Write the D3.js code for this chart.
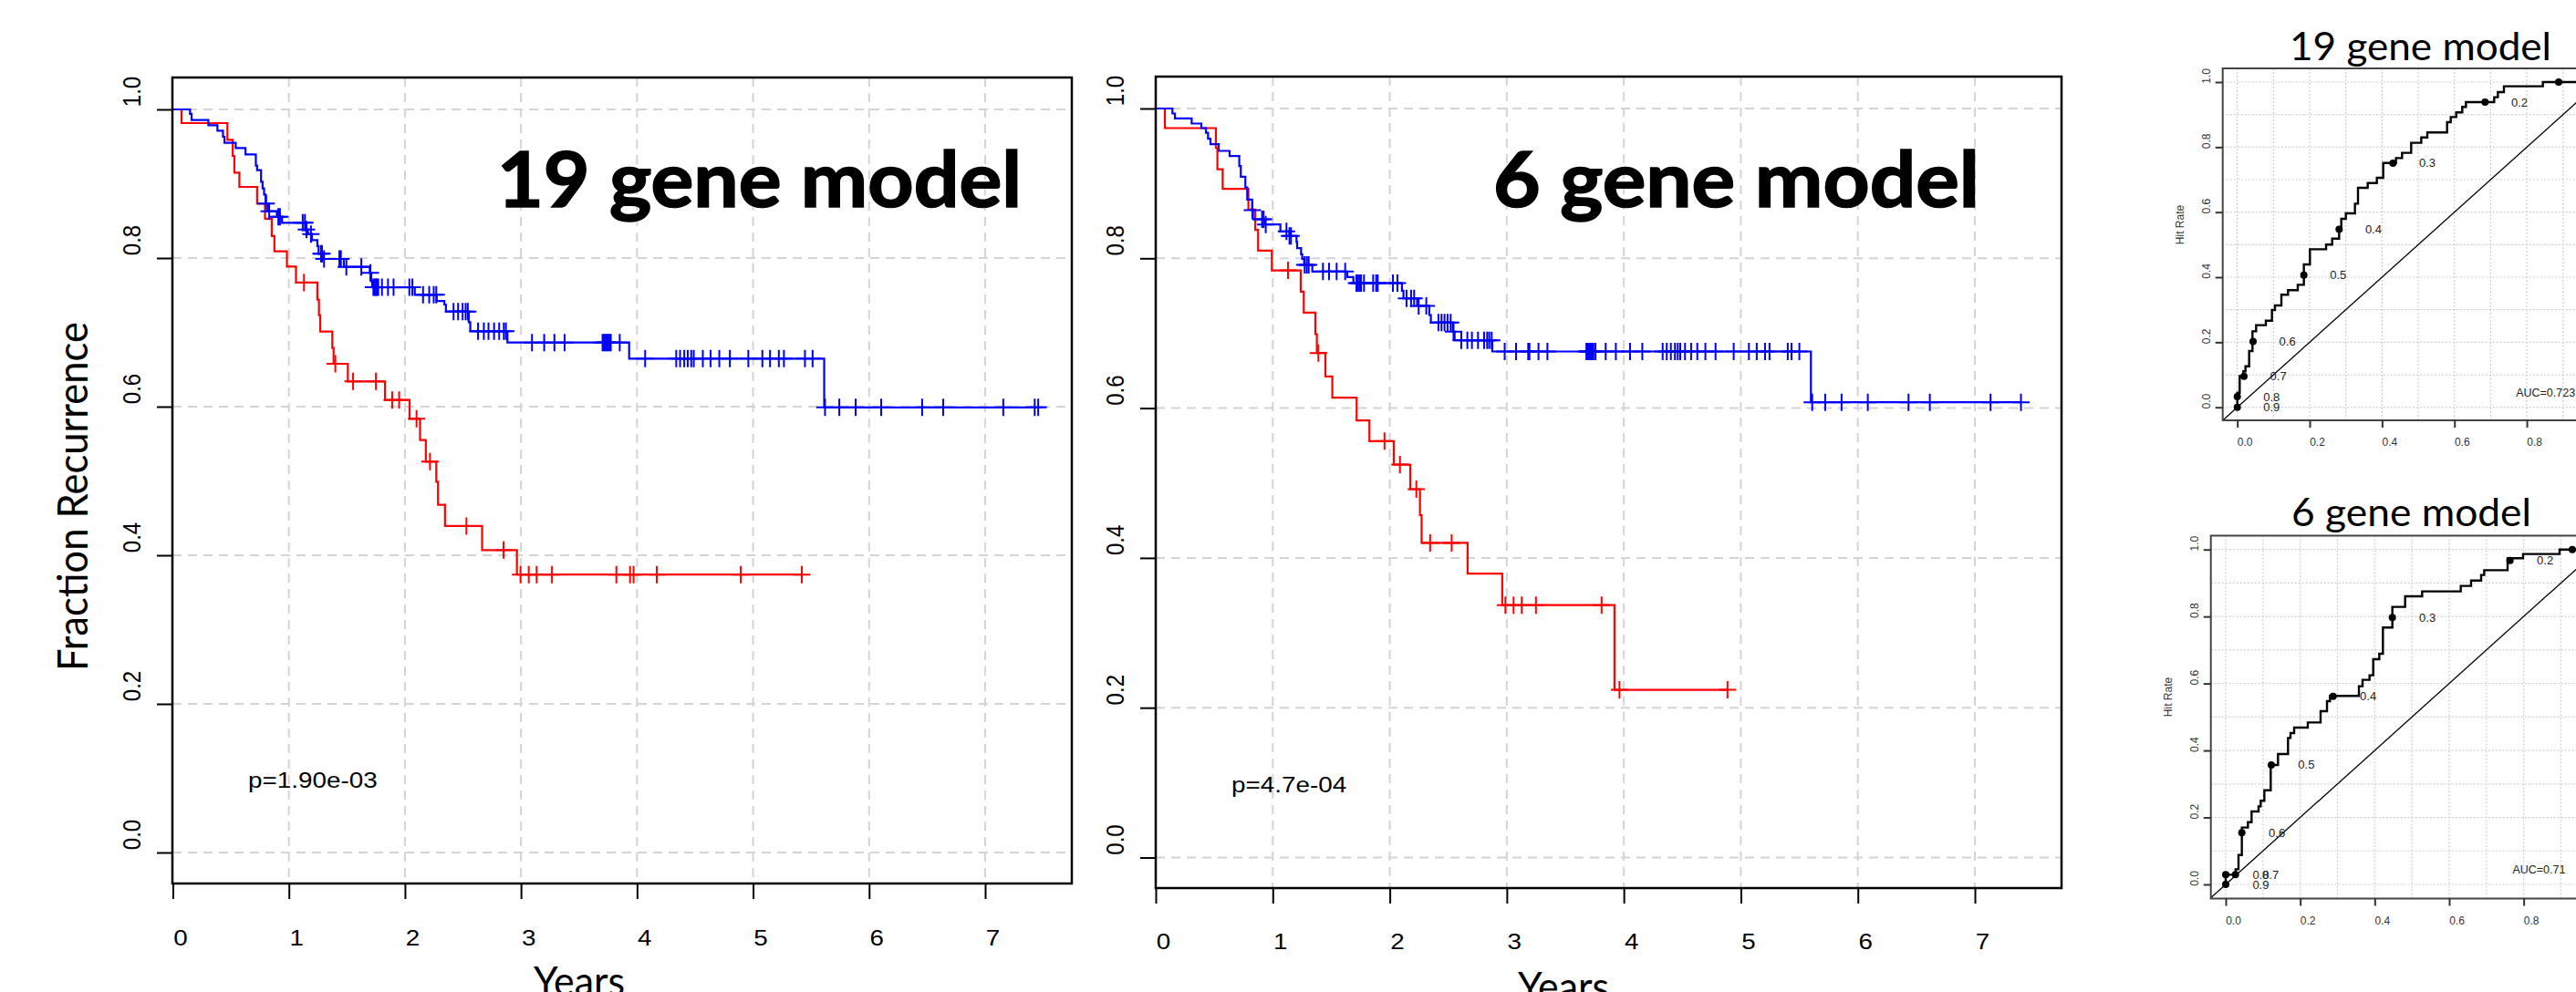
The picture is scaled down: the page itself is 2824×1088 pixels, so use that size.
<!DOCTYPE html>
<html>
<head>
<meta charset="utf-8">
<script src="https://cdn.jsdelivr.net/npm/d3@7"></script>
<style>
  body { margin: 0; background: #fff; }
  svg { display: block; }
</style>
</head>
<body>
<script>
// ---- tick values ----
var yearTicks = [0, 1, 2, 3, 4, 5, 6, 7];
var fracTicks = [0, 0.2, 0.4, 0.6, 0.8, 1.0];
var rocTicks = [0, 0.2, 0.4, 0.6, 0.8, 1.0];
var rocGrid = [0, 0.1, 0.2, 0.3, 0.4, 0.5, 0.6, 0.7, 0.8, 0.9, 1.0];

// ---- Kaplan-Meier, 19 gene model (event times in years, fraction after each event) ----
var km19LowTime = [0.148,0.161,0.306,0.384,0.432,0.445,0.542,0.626,0.715,0.726,0.76,0.773,0.786,0.799,0.82,0.896,0.941,1.146,1.164,1.198,1.245,1.256,1.29,1.474,1.697,1.71,1.718,2.085,2.274,2.34,2.353,2.55,2.563,2.883,3.932,5.613];
var km19LowSurv = [0.9939,0.9857,0.9787,0.9714,0.9632,0.955,0.948,0.9395,0.9243,0.9182,0.9027,0.8937,0.8855,0.8732,0.863,0.8556,0.8474,0.8384,0.8323,0.8241,0.816,0.8057,0.7988,0.7881,0.78,0.7689,0.7607,0.7505,0.7423,0.7374,0.728,0.7137,0.7015,0.6863,0.6646,0.599];
var km19LowCens = [0.804,0.83,0.909,0.923,1.119,1.138,1.151,1.19,1.277,1.285,1.303,1.435,1.448,1.495,1.624,1.702,1.728,1.739,1.75,1.757,1.77,1.802,1.854,1.902,2.038,2.064,2.156,2.209,2.248,2.27,2.419,2.458,2.497,2.523,2.542,2.63,2.68,2.72,2.768,2.812,2.852,2.87,3.095,3.2,3.288,3.376,3.703,3.715,3.727,3.739,3.751,3.763,3.774,3.851,4.07,4.338,4.371,4.407,4.437,4.467,4.489,4.567,4.634,4.709,4.8,4.959,5.08,5.146,5.222,5.266,5.447,5.513,5.62,5.743,5.884,6.104,6.457,6.638,7.156,7.427,7.457];

var km19HighTime = [0.075,0.47,0.516,0.53,0.573,0.726,0.794,0.852,0.875,0.983,1.061,1.245,1.259,1.27,1.374,1.385,1.508,1.828,2.04,2.13,2.18,2.27,2.285,2.345,2.665,2.965];
var km19HighSurv = [0.9816,0.959,0.9374,0.915,0.8957,0.873,0.853,0.8295,0.809,0.7886,0.767,0.744,0.723,0.701,0.679,0.6577,0.634,0.609,0.5836,0.555,0.526,0.499,0.468,0.4394,0.407,0.374];
var km19HighCens = [1.13,1.4,1.553,1.75,1.89,1.95,2.10,2.216,2.53,2.85,2.996,3.067,3.135,3.267,3.822,3.94,3.97,4.17,4.894,5.42];

// ---- Kaplan-Meier, 6 gene model ----
var km6LowTime = [0.143,0.164,0.307,0.39,0.429,0.447,0.468,0.538,0.631,0.714,0.727,0.766,0.782,0.824,0.831,0.935,1.065,1.143,1.203,1.208,1.242,1.252,1.268,1.338,1.637,1.689,2.104,2.117,2.234,2.338,2.351,2.538,2.554,2.876,5.599];
var km6LowSurv = [0.9933,0.9868,0.9799,0.9738,0.9677,0.9596,0.9523,0.9434,0.9365,0.9231,0.9089,0.8947,0.8785,0.8643,0.8521,0.8452,0.8359,0.8298,0.8217,0.8136,0.8054,0.7994,0.7912,0.7823,0.775,0.7669,0.7568,0.7466,0.7365,0.7243,0.7141,0.702,0.6906,0.6756,0.6078];
var km6LowCens = [0.826,0.909,0.922,0.94,1.117,1.143,1.156,1.273,1.291,1.307,1.429,1.481,1.546,1.619,1.715,1.728,1.741,1.754,1.78,1.858,1.884,1.897,2.027,2.065,2.143,2.182,2.208,2.247,2.312,2.416,2.442,2.468,2.494,2.52,2.545,2.611,2.663,2.702,2.754,2.806,2.832,2.85,2.871,2.982,3.079,3.183,3.194,3.271,3.347,3.68,3.69,3.70,3.71,3.72,3.73,3.74,3.758,3.845,3.932,4.053,4.158,4.332,4.367,4.402,4.437,4.461,4.482,4.523,4.575,4.628,4.697,4.784,4.939,5.069,5.136,5.207,5.245,5.401,5.433,5.5,5.61,5.721,5.861,6.085,6.433,6.615,7.134,7.394];

var km6HighTime = [0.078,0.514,0.527,0.572,0.792,0.85,0.875,0.992,1.239,1.265,1.364,1.377,1.45,1.509,1.717,1.826,2.034,2.175,2.258,2.272,2.665,2.961,3.92];
var km6HighSurv = [0.9738,0.9475,0.919,0.8927,0.8651,0.8379,0.8103,0.7839,0.7555,0.7275,0.6987,0.6735,0.6423,0.6139,0.5835,0.5559,0.5246,0.4918,0.4571,0.4201,0.379,0.337,0.2239];
var km6HighCens = [1.13,1.39,1.955,2.087,2.227,2.345,2.529,2.988,3.058,3.128,3.249,3.81,3.963,4.886];

// ---- ROC curves (false alarm rate, hit rate) ----
var roc19Fpr = [0,0,0.0066,0.0167,0.0226,0.0327,0.0419,0.052,0.0789,0.0957,0.1041,0.1218,0.1402,0.1671,0.1839,0.2007,0.2453,0.2621,0.2814,0.2873,0.2999,0.3251,0.3335,0.3604,0.3856,0.4032,0.4385,0.4553,0.4805,0.5083,0.5251,0.5797,0.5898,0.6049,0.6217,0.6318,0.7099,0.72,0.7368,0.8444,1];
var roc19Tpr = [0,0.0449,0.0963,0.1104,0.1262,0.173,0.2337,0.2524,0.2664,0.2991,0.3131,0.3459,0.3599,0.3767,0.4393,0.486,0.5001,0.5187,0.5514,0.5795,0.5963,0.6262,0.6748,0.6897,0.7056,0.7514,0.7664,0.7823,0.8131,0.8299,0.8449,0.8766,0.8925,0.9066,0.9234,0.9383,0.9533,0.9691,0.9869,1,1];
var roc6Fpr = [0,0,0.0265,0.0343,0.0433,0.0596,0.0694,0.0882,0.0939,0.1037,0.1208,0.1404,0.1673,0.1739,0.1837,0.2204,0.2547,0.2719,0.28,0.3576,0.3674,0.3862,0.396,0.4123,0.4221,0.4474,0.4817,0.5274,0.6311,0.6588,0.6858,0.694,0.7568,0.7984,0.8964,1];
var roc6Tpr = [0,0.029,0.0454,0.088,0.1697,0.186,0.2178,0.2332,0.2496,0.2813,0.3567,0.3893,0.4374,0.452,0.4683,0.4837,0.5173,0.5472,0.5627,0.5917,0.6108,0.6244,0.6725,0.6888,0.7669,0.8286,0.8603,0.8749,0.8912,0.9075,0.9239,0.9384,0.9738,0.9865,1,1];

// cutoff points marked on the ROC curves
var cutLabels = ["0.9", "0.8", "0.7", "0.6", "0.5", "0.4", "0.3", "0.2", "0.1"];
var roc19CutFpr = [0, 0, 0.0184, 0.0436, 0.1839, 0.2814, 0.4301, 0.6847, 0.888];
var roc19CutTpr = [0, 0.0327, 0.0954, 0.2027, 0.4065, 0.5475, 0.7505, 0.938, 1.0];
var roc6CutFpr = [0, 0, 0.0261, 0.0433, 0.1224, 0.2882, 0.4474, 0.7633, 0.9305];
var roc6CutTpr = [0, 0.029, 0.029, 0.1543, 0.3567, 0.5618, 0.7968, 0.9675, 1.0];

var W = 2824, H = 1088;
var SANS = "'Liberation Sans', Arial, sans-serif";
var CAL = "Lato, 'Open Sans', sans-serif";

var svg = d3.select("body").append("svg")
    .attr("width", W)
    .attr("height", H);

svg.append("rect").attr("width", W).attr("height", H).attr("fill", "#fff");

function survAt(times, surv, t) {
  var s = 1;
  for (var i = 0; i < times.length; i++) {
    if (times[i] <= t) s = surv[i]; else break;
  }
  return s;
}

function styleAxis(a, color, size) {
  a.select(".domain").remove();
  a.attr("font-family", SANS).attr("font-size", size);
  a.selectAll(".tick line").attr("stroke", color).attr("stroke-width", 2);
  a.selectAll(".tick text").attr("fill", color);
}

function kmPanel(p) {
  var g = svg.append("g");
  var x = p.x, y = p.y, b = p.box;

  // dashed grid
  g.append("g").selectAll("line").data(yearTicks.slice(1)).join("line")
    .attr("x1", function(d) { return x(d); }).attr("x2", function(d) { return x(d); })
    .attr("y1", b.t).attr("y2", b.b)
    .attr("stroke", "#d4d4d4").attr("stroke-width", 2).attr("stroke-dasharray", "10,7");
  g.append("g").selectAll("line").data(fracTicks).join("line")
    .attr("x1", b.l).attr("x2", b.r)
    .attr("y1", function(d) { return y(d); }).attr("y2", function(d) { return y(d); })
    .attr("stroke", "#d4d4d4").attr("stroke-width", 2).attr("stroke-dasharray", "10,7");

  var line = d3.line()
    .x(function(d) { return x(d[0]); })
    .y(function(d) { return y(d[1]); })
    .curve(d3.curveStepAfter);

  p.groups.forEach(function(gr) {
    var pts = [[0, 1]];
    gr.time.forEach(function(t, i) { pts.push([t, gr.surv[i]]); });
    pts.push([d3.max(gr.cens), gr.surv[gr.surv.length - 1]]);
    g.append("path").attr("d", line(pts))
      .attr("fill", "none").attr("stroke", gr.color).attr("stroke-width", 2.2);

    // censor marks
    var h = 9.5;
    g.append("g").selectAll("path").data(gr.cens).join("path")
      .attr("d", function(d) {
        var cx = x(d), cy = y(survAt(gr.time, gr.surv, d));
        return "M" + (cx - h) + "," + cy + "H" + (cx + h) + "M" + cx + "," + (cy - h) + "V" + (cy + h);
      })
      .attr("fill", "none").attr("stroke", gr.color).attr("stroke-width", 2);
  });

  g.append("rect")
    .attr("x", b.l).attr("y", b.t)
    .attr("width", b.r - b.l).attr("height", b.b - b.t)
    .attr("fill", "none").attr("stroke", "#000").attr("stroke-width", 2.5);

  var ax = g.append("g").attr("transform", "translate(0," + b.b + ")")
    .call(d3.axisBottom(x).tickValues(yearTicks).tickSize(17).tickFormat(d3.format("d")));
  styleAxis(ax, "#000", 24);
  ax.selectAll(".tick text").attr("y", p.xLabY).attr("dy", 0)
    .attr("transform", "translate(8,0) scale(1.16,1)");

  var ay = g.append("g").attr("transform", "translate(" + b.l + ",0)")
    .call(d3.axisLeft(y).tickValues(fracTicks).tickSize(17).tickFormat(d3.format(".1f")));
  styleAxis(ay, "#000", 24);
  ay.selectAll(".tick text").attr("x", 0).attr("dy", 0).attr("text-anchor", "middle")
    .attr("transform", "translate(-35,-20) scale(1.16,1) rotate(-90)");

  // big model title
  g.append("text")
    .attr("x", p.title.x).attr("y", 227)
    .attr("font-family", CAL).attr("font-weight", 700).attr("font-size", 84)
    .attr("stroke", "#000").attr("stroke-width", 1.6)
    .attr("textLength", p.title.w).attr("lengthAdjust", "spacingAndGlyphs")
    .text(p.title.text);

  g.append("text")
    .attr("transform", "translate(" + p.pval.x + "," + p.pval.y + ") scale(1.16,1)")
    .attr("font-family", SANS).attr("font-size", 24)
    .text(p.pval.text);

  g.append("text")
    .attr("x", p.years.x).attr("y", p.years.y)
    .attr("text-anchor", "middle")
    .attr("font-family", CAL).attr("font-size", 44)
    .attr("textLength", 100).attr("lengthAdjust", "spacingAndGlyphs")
    .text("Years");
}

function rocPanel(p) {
  var g = svg.append("g");
  var x = p.x, y = p.y, b = p.box;

  svg.append("clipPath").attr("id", p.id)
    .append("rect").attr("x", b.l).attr("y", b.t)
    .attr("width", b.r - b.l).attr("height", b.b - b.t);

  var inner = g.append("g").attr("clip-path", "url(#" + p.id + ")");
  inner.append("g").selectAll("line").data(rocGrid).join("line")
    .attr("x1", function(d) { return x(d); }).attr("x2", function(d) { return x(d); })
    .attr("y1", b.t).attr("y2", b.b)
    .attr("stroke", "#cfcfcf").attr("stroke-width", 1.2).attr("stroke-dasharray", "2,2");
  inner.append("g").selectAll("line").data(rocGrid).join("line")
    .attr("x1", b.l).attr("x2", b.r)
    .attr("y1", function(d) { return y(d); }).attr("y2", function(d) { return y(d); })
    .attr("stroke", "#cfcfcf").attr("stroke-width", 1.2).attr("stroke-dasharray", "2,2");

  inner.append("line")
    .attr("x1", x(-0.04)).attr("y1", y(-0.04))
    .attr("x2", x(1.04)).attr("y2", y(1.04))
    .attr("stroke", "#000").attr("stroke-width", 1.3);

  var pts = p.fpr.map(function(f, i) { return [f, p.tpr[i]]; });
  var line = d3.line()
    .x(function(d) { return x(d[0]); })
    .y(function(d) { return y(d[1]); })
    .curve(d3.curveStepAfter);
  inner.append("path").attr("d", line(pts))
    .attr("fill", "none").attr("stroke", "#000").attr("stroke-width", 2.4);

  var cuts = p.cutFpr.map(function(f, i) { return { f: f, t: p.cutTpr[i], lab: cutLabels[i] }; });
  inner.append("g").selectAll("circle").data(cuts).join("circle")
    .attr("cx", function(d) { return x(d.f); })
    .attr("cy", function(d) { return y(d.t); })
    .attr("r", 4).attr("fill", "#000");
  inner.append("g").selectAll("text").data(cuts).join("text")
    .attr("x", function(d) { return x(d.f + 0.072); })
    .attr("y", function(d) { return y(d.t) + 4.5; })
    .attr("font-family", SANS).attr("font-size", 13).attr("fill", "#222")
    .text(function(d) { return d.lab; });

  inner.append("text")
    .attr("x", x(0.77)).attr("y", y(0.045) + 4.5)
    .attr("font-family", SANS).attr("font-size", 12.5).attr("fill", "#222")
    .text(p.auc);

  g.append("rect")
    .attr("x", b.l).attr("y", b.t)
    .attr("width", b.r - b.l).attr("height", b.b - b.t)
    .attr("fill", "none").attr("stroke", "#444").attr("stroke-width", 2);

  var ax = g.append("g").attr("transform", "translate(0," + b.b + ")")
    .call(d3.axisBottom(x).tickValues(rocTicks).tickSize(8).tickFormat(d3.format(".1f")));
  styleAxis(ax, "#333", 12);
  ax.selectAll(".tick text").attr("y", 28).attr("dy", 0).attr("transform", "translate(8,0)");

  var ay = g.append("g").attr("transform", "translate(" + b.l + ",0)")
    .call(d3.axisLeft(y).tickValues(rocTicks).tickSize(8).tickFormat(d3.format(".1f")));
  styleAxis(ay, "#333", 12);
  ay.selectAll(".tick text").attr("x", 0).attr("dy", 0).attr("text-anchor", "middle")
    .attr("transform", "translate(-14.2,-7) rotate(-90)");

  g.append("text")
    .attr("transform", "translate(" + (b.l - 43) + "," + p.hitY + ") rotate(-90)")
    .attr("text-anchor", "middle")
    .attr("font-family", SANS).attr("font-size", 12).attr("fill", "#333")
    .text("Hit Rate");

  g.append("text")
    .attr("x", p.title.x).attr("y", p.title.y)
    .attr("font-family", CAL).attr("font-size", 43)
    .attr("textLength", p.title.w).attr("lengthAdjust", "spacingAndGlyphs")
    .text(p.title.text);
}

// ---- left: 19 gene model survival ----
kmPanel({
  x: d3.scaleLinear().domain([0, 7]).range([189.5, 1080]),
  y: d3.scaleLinear().domain([0, 1]).range([935, 120]),
  box: { l: 189, r: 1175, t: 85, b: 969 },
  xLabY: 68,
  groups: [
    { time: km19HighTime, surv: km19HighSurv, cens: km19HighCens, color: "#ff0000" },
    { time: km19LowTime, surv: km19LowSurv, cens: km19LowCens, color: "#0000ff" }
  ],
  title: { text: "19 gene model", x: 545, w: 575 },
  pval: { text: "p=1.90e-03", x: 272, y: 864 },
  years: { x: 635, y: 1092 }
});

svg.append("text")
  .attr("transform", "translate(96,544.5) rotate(-90)")
  .attr("text-anchor", "middle")
  .attr("font-family", CAL).attr("font-size", 46)
  .attr("textLength", 383).attr("lengthAdjust", "spacingAndGlyphs")
  .text("Fraction Recurrence");

// ---- middle: 6 gene model survival ----
kmPanel({
  x: d3.scaleLinear().domain([0, 7]).range([1267, 2165]),
  y: d3.scaleLinear().domain([0, 1]).range([940.5, 119]),
  box: { l: 1267, r: 2260, t: 84, b: 974 },
  xLabY: 67,
  groups: [
    { time: km6HighTime, surv: km6HighSurv, cens: km6HighCens, color: "#ff0000" },
    { time: km6LowTime, surv: km6LowSurv, cens: km6LowCens, color: "#0000ff" }
  ],
  title: { text: "6 gene model", x: 1637, w: 533 },
  pval: { text: "p=4.7e-04", x: 1350, y: 869 },
  years: { x: 1714, y: 1098 }
});

// ---- right: ROC curves ----
rocPanel({
  id: "clip-roc19",
  x: d3.scaleLinear().domain([0, 1]).range([2452.7, 2849.4]),
  y: d3.scaleLinear().domain([0, 1]).range([446.7, 90]),
  box: { l: 2436.7, r: 2865, t: 75, b: 461 },
  fpr: roc19Fpr, tpr: roc19Tpr,
  cutFpr: roc19CutFpr, cutTpr: roc19CutTpr,
  auc: "AUC=0.723",
  hitY: 246.5,
  title: { text: "19 gene model", x: 2510, y: 66, w: 287 }
});

rocPanel({
  id: "clip-roc6",
  x: d3.scaleLinear().domain([0, 1]).range([2440, 2848.3]),
  y: d3.scaleLinear().domain([0, 1]).range([970, 602.7]),
  box: { l: 2423.7, r: 2865, t: 587.5, b: 985.5 },
  fpr: roc6Fpr, tpr: roc6Tpr,
  cutFpr: roc6CutFpr, cutTpr: roc6CutTpr,
  auc: "AUC=0.71",
  hitY: 764.5,
  title: { text: "6 gene model", x: 2512, y: 577, w: 263 }
});
</script>
</body>
</html>
